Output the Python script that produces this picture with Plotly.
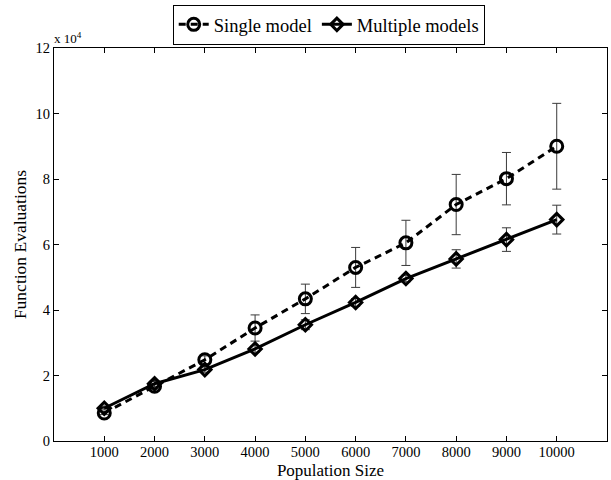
import plotly.graph_objects as go

pop_size = [1000, 2000, 3000, 4000, 5000, 6000, 7000, 8000, 9000, 10000]
single_vals = [8550, 16700, 24800, 34500, 43400, 53000, 60500, 72200, 80100, 90000]
single_err = [500, 800, 1200, 4000, 4500, 6100, 6900, 9200, 8000, 13100]
multi_vals = [10000, 17500, 21800, 28100, 35500, 42300, 49600, 55600, 61500, 67600]
multi_err = [500, 800, 800, 1000, 1500, 1200, 1000, 2800, 3600, 4400]
y_tickvals = [0, 20000, 40000, 60000, 80000, 100000, 120000]
y_ticktext = ["0", "2", "4", "6", "8", "10", "12"]

FONT = "Liberation Serif, Times New Roman, serif"

fig = go.Figure()
fig.add_trace(go.Scatter(
    x=pop_size, y=single_vals, name="Single model", mode="lines+markers",
    line=dict(color="black", width=3, dash="7px,5px"),
    marker=dict(symbol="circle-open", size=12, color="black", line=dict(width=3, color="black")),
    error_y=dict(type="data", array=single_err, visible=True, color="#3a3a3a", thickness=1, width=4.5),
))
fig.add_trace(go.Scatter(
    x=pop_size, y=multi_vals, name="Multiple models", mode="lines+markers",
    line=dict(color="black", width=3),
    marker=dict(symbol="diamond-open", size=9.5, color="black", line=dict(width=3, color="black")),
    error_y=dict(type="data", array=multi_err, visible=True, color="#3a3a3a", thickness=1, width=4.5),
))

fig.update_layout(
    width=611, height=480,
    margin=dict(l=54, r=4, t=48, b=39, autoexpand=False),
    paper_bgcolor="white", plot_bgcolor="white",
    font=dict(family=FONT, size=14, color="black"),
    showlegend=True,
    legend=dict(orientation="h", x=0.538, xanchor="center", y=0.99, yanchor="top",
                xref="container", yref="container",
                bordercolor="black", borderwidth=1, bgcolor="white",
                font=dict(family=FONT, size=18.5), itemwidth=30, tracegroupgap=0),
    xaxis=dict(range=[0, 11000], tickvals=pop_size, ticktext=[str(v) for v in pop_size],
               ticks="inside", ticklen=5, tickcolor="black", showline=True, linecolor="black",
               linewidth=1, mirror="ticks", showgrid=False, zeroline=False, automargin=False,
               ticklabelstandoff=-2,
               tickfont=dict(family=FONT, size=14.5),
               title=dict(text="Population Size", font=dict(family=FONT, size=17), standoff=10)),
    yaxis=dict(range=[0, 120000], tickvals=y_tickvals, ticktext=y_ticktext,
               ticks="inside", ticklen=5, tickcolor="black", showline=True, linecolor="black",
               linewidth=1, mirror="ticks", showgrid=False, zeroline=False, automargin=False,
               tickfont=dict(family=FONT, size=14.5),
               title=dict(text="Function Evaluations", font=dict(family=FONT, size=17.5), standoff=4)),
)
fig.add_annotation(text="x 10<sup>4</sup>", xref="paper", yref="paper", x=0, y=1.0,
                   xanchor="left", yanchor="bottom", showarrow=False,
                   font=dict(family=FONT, size=13), yshift=0, xshift=-2)

fig.write_html("out.html", config={"displayModeBar": False},
               post_script="document.body.style.margin='0';document.body.style.overflow='hidden';")
